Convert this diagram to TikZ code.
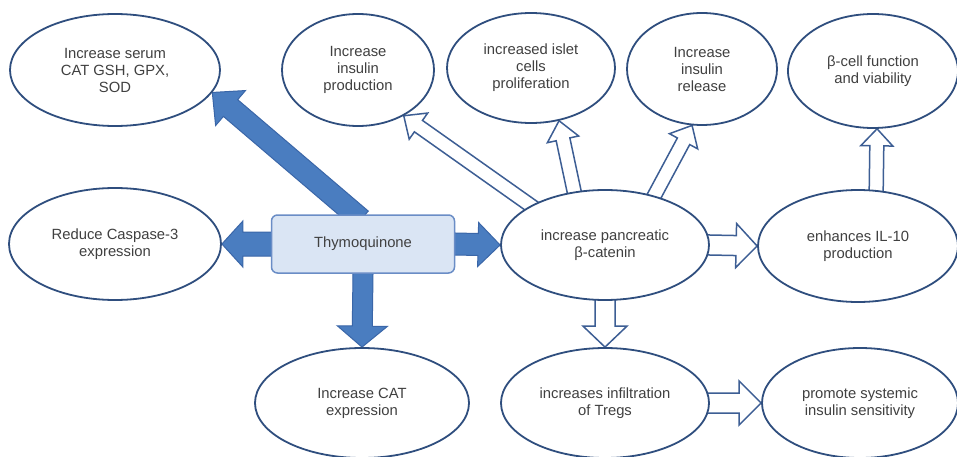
\documentclass[tikz,border=0pt]{standalone}
\usepackage{fontspec}
\setmainfont{Liberation Sans}
\usetikzlibrary{shapes.geometric,calc,backgrounds}

\definecolor{ovalblue}{HTML}{2F4E7E}
\definecolor{boxfill}{HTML}{DAE5F4}
\definecolor{boxline}{HTML}{6A8DC6}
\definecolor{fatfill}{HTML}{4A7DC0}
\definecolor{fatline}{HTML}{3A66A8}
\definecolor{openline}{HTML}{3D5E94}
\definecolor{textgrey}{HTML}{404040}

\tikzset{
  oval/.style={ellipse, draw=ovalblue, line width=1.8pt, fill=white, inner sep=0pt,
    align=center, text=textgrey, font=\fontsize{14.8}{17}\selectfont},
  box/.style={rectangle, rounded corners=6pt, draw=boxline, line width=1.5pt, fill=boxfill,
    minimum width=183pt, minimum height=58pt, text=textgrey, font=\fontsize{14.8}{17}\selectfont},
  fat/.style={fill=fatfill, draw=fatline, line width=1pt, line join=miter},
  hollow/.style={fill=white, draw=openline, line width=1.5pt, line join=miter}
}

% #1 style, #2 from, #3 to, #4 half shaft, #5 half head, #6 head length
\newcommand{\blockarrow}[6]{%
\draw[#1] ($(#2)!-8pt!(#3)!#4!90:(#3)$) -- ($(#3)!#6!(#2)!#4!-90:(#2)$) -- ($(#3)!#6!(#2)!#5!-90:(#2)$)
  -- (#3) -- ($(#3)!#6!(#2)!#5!90:(#2)$) -- ($(#3)!#6!(#2)!#4!90:(#2)$) -- ($(#2)!-8pt!(#3)!#4!-90:(#3)$) -- cycle;}

\begin{document}
\begin{tikzpicture}[x=1pt,y=-1pt]
\useasboundingbox (0,0) rectangle (957,457);
\clip (0,0) rectangle (957,457);

\node (serum) [oval, minimum width=210pt, minimum height=112pt] at (115,70) {Increase serum\\CAT GSH, GPX,\\SOD};
\node (prod) [oval, minimum width=152pt, minimum height=112pt] at (358,70) {Increase\\insulin\\production};
\node (islet) [oval, minimum width=168pt, minimum height=110pt] at (531,68) {increased islet\\cells\\proliferation};
\node (release) [oval, minimum width=150pt, minimum height=112pt] at (702,69) {Increase\\insulin\\release};
\node (bcell) [oval, minimum width=170pt, minimum height=114pt] at (873,71) {β-cell function\\and viability};
\node (caspase) [oval, minimum width=212pt, minimum height=112pt] at (115,244) {Reduce Caspase-3\\expression};
\node (thymo) [box] at (363,244) {Thymoquinone};
\node (beta) [oval, minimum width=208pt, minimum height=110pt] at (605,245) {increase pancreatic\\β-catenin};
\node (il10) [oval, minimum width=200pt, minimum height=112pt] at (858,246) {enhances IL-10\\production};
\node (cat) [oval, minimum width=214pt, minimum height=110pt] at (362,403) {Increase CAT\\expression};
\node (tregs) [oval, minimum width=208pt, minimum height=110pt] at (605,403) {increases infiltration\\of Tregs};
\node (promote) [oval, minimum width=196pt, minimum height=110pt] at (860,403) {promote systemic\\insulin sensitivity};

\begin{scope}[on background layer]
\fill[white] (0,0) rectangle (957,457);
\blockarrow{fat}{thymo.105}{serum.-13}{11pt}{23pt}{24pt}
\blockarrow{fat}{thymo.west}{caspase.east}{12pt}{23pt}{21pt}
\blockarrow{fat}{thymo.south}{cat.north}{10pt}{25pt}{21pt}
\blockarrow{fat}{thymo.east}{beta.west}{11pt}{22pt}{22pt}
\blockarrow{hollow}{beta.152}{prod.-45}{7pt}{16pt}{18pt}
\blockarrow{hollow}{beta.120}{islet.-62}{7pt}{16pt}{19pt}
\blockarrow{hollow}{beta.45}{release.-100}{7pt}{16pt}{18pt}
\blockarrow{hollow}{il10.72}{bcell.-86}{7pt}{16pt}{17pt}
\blockarrow{hollow}{beta.east}{il10.west}{10pt}{22pt}{21pt}
\blockarrow{hollow}{beta.south}{tregs.north}{10pt}{22pt}{21pt}
\blockarrow{hollow}{tregs.east}{promote.west}{10pt}{22pt}{22pt}
\end{scope}
\end{tikzpicture}
\end{document}
